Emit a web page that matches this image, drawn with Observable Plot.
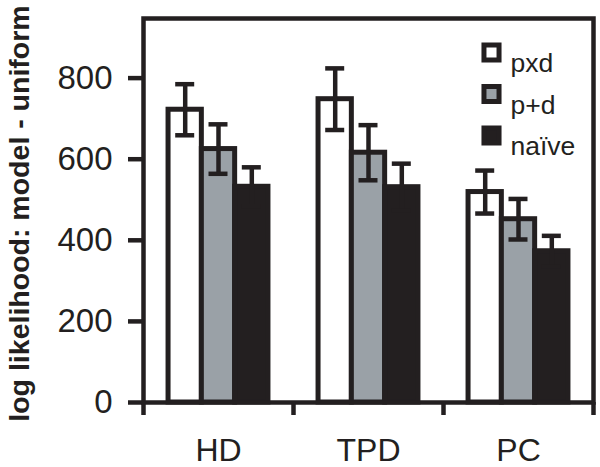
<!DOCTYPE html>
<html>
<head>
<meta charset="utf-8">
<script src="https://cdn.jsdelivr.net/npm/d3@7"></script>
<script src="https://cdn.jsdelivr.net/npm/@observablehq/plot@0.6"></script>
<style>
  html, body { margin: 0; padding: 0; background: #fff; }
</style>
</head>
<body>
<div id="chart"></div>
<script>
const categories = ["HD", "TPD", "PC"];
const series = ["pxd", "p+d", "naïve"];
const pxdValues = [722, 748, 519];
const pxdErrors = [63, 76, 53];
const pdValues = [625, 616, 452];
const pdErrors = [61, 68, 50];
const naiveValues = [532, 531, 373];
const naiveErrors = [48, 58, 38];
const yTicks = [0, 200, 400, 600, 800];
const yLabel = "log likelihood: model - uniform";

const INK = "#231f20";
const GRAY = "#9aa1a7";
const fills = ["#ffffff", GRAY, INK];

const valuesBySeries = [pxdValues, pdValues, naiveValues];
const errorsBySeries = [pxdErrors, pdErrors, naiveErrors];
const rows = series.map((s, si) => categories.map((c, ci) => ({
  category: c, series: s, value: valuesBySeries[si][ci], err: errorsBySeries[si][ci]
})));

const band = 150;
const barW = 33.3;
const capW = 19;
const font = "'Liberation Sans', Arial, Helvetica, sans-serif";

const marks = [];
rows.forEach((data, si) => {
  marks.push(Plot.barY(data, {
    x: "category", y: "value", fill: fills[si], stroke: INK, strokeWidth: 5,
    insetLeft: (band - barW) / 2, insetRight: (band - barW) / 2, dx: (si - 1) * barW
  }));
});
rows.forEach((data, si) => {
  marks.push(Plot.ruleX(data, {
    x: "category", y1: d => d.value - d.err, y2: d => d.value + d.err,
    stroke: INK, strokeWidth: 4.5, dx: (si - 1) * barW
  }));
  marks.push(Plot.tickY(data, {
    x: "category", y: d => d.value + d.err, stroke: INK, strokeWidth: 4.5,
    insetLeft: (band - capW) / 2, insetRight: (band - capW) / 2, dx: (si - 1) * barW
  }));
  marks.push(Plot.tickY(data, {
    x: "category", y: d => d.value - d.err, stroke: INK, strokeWidth: 4.5,
    insetLeft: (band - capW) / 2, insetRight: (band - capW) / 2, dx: (si - 1) * barW
  }));
});

// legend
series.forEach((s, si) => {
  marks.push(Plot.dot([s], {
    frameAnchor: "top-right", symbol: "square", r: 8.5,
    fill: fills[si], stroke: INK, strokeWidth: 5,
    dx: -102, dy: 34 + si * 41.5
  }));
  marks.push(Plot.text([s], {
    frameAnchor: "top-right", text: d => d, textAnchor: "start",
    fontSize: 26.5, fill: INK, dx: -83, dy: 35 + si * 41.5, fontFamily: font
  }));
});

marks.push(Plot.frame({stroke: INK, strokeWidth: 4.5}));
marks.push(Plot.axisY({
  ticks: yTicks, tickSize: 15, tickPadding: 16, strokeWidth: 4.5, stroke: INK,
  fontSize: 33, fill: INK, label: null, tickFormat: d => String(d), fontFamily: font
}));
marks.push(Plot.axisX({
  tickSize: 13, tickFormat: () => "", strokeWidth: 4.5, stroke: INK, dx: -band / 2, label: null
}));
marks.push(Plot.axisX({
  ticks: [categories[categories.length - 1]], tickSize: 13, tickFormat: () => "",
  strokeWidth: 4.5, stroke: INK, dx: band / 2, label: null
}));
marks.push(Plot.axisX({
  tickSize: 0, tickPadding: 36, fontSize: 32, fill: INK, label: null, fontFamily: font
}));
marks.push(Plot.text([yLabel], {
  frameAnchor: "left", text: d => d, rotate: -90, dx: -135, dy: 3,
  textAnchor: "middle", lineAnchor: "top", fontWeight: "bold", fontSize: 28.5, fill: INK, fontFamily: font
}));

const chart = Plot.plot({
  width: 600,
  height: 467,
  marginLeft: 143,
  marginRight: 7,
  marginTop: 18,
  marginBottom: 65,
  style: {fontFamily: font, background: "#fff", color: INK},
  x: {domain: categories, paddingInner: 0, paddingOuter: 0, axis: null},
  y: {domain: [0, 947], axis: null},
  marks
});
document.getElementById("chart").appendChild(chart);
</script>
</body>
</html>
